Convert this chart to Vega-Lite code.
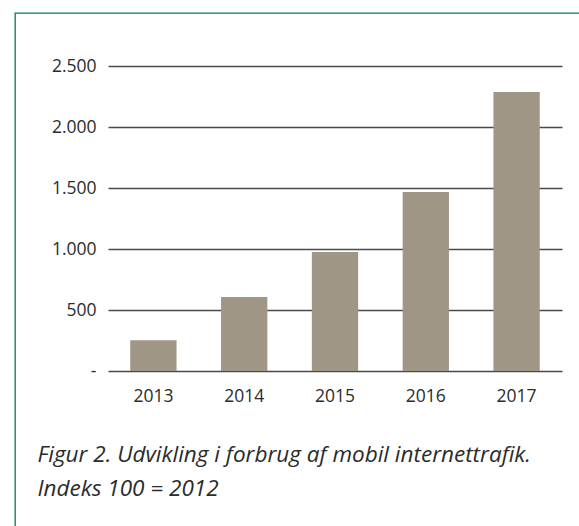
{
  "$schema": "https://vega.github.io/schema/vega-lite/v6.json",
  "width": 569,
  "height": 518,
  "autosize": "none",
  "padding": {"left": 15, "top": 13, "right": 0, "bottom": 0},
  "background": "white",
  "config": {
    "view": {"stroke": "#0b7a52", "strokeWidth": 1.3},
    "font": "Open Sans"
  },
  "data": {
    "values": [
      {"year": "2013", "value": 252},
      {"year": "2014", "value": 606},
      {"year": "2015", "value": 975},
      {"year": "2016", "value": 1467},
      {"year": "2017", "value": 2287}
    ]
  },
  "mark": {"type": "bar", "color": "#a09686"},
  "encoding": {
    "x": {
      "field": "year",
      "type": "ordinal",
      "scale": {"range": [93, 547], "paddingInner": 0.49, "paddingOuter": 0.245},
      "axis": {
        "orient": "bottom",
        "offset": -160,
        "ticks": false,
        "domain": false,
        "labelAngle": 0,
        "labelFontSize": 17.5,
        "labelColor": "#2b2b2b",
        "labelPadding": 16,
        "title": ["Figur 2. Udvikling i forbrug af mobil internettrafik.", "Indeks 100 = 2012"],
        "titleFontStyle": "italic",
        "titleFontWeight": "normal",
        "titleFontSize": 22.5,
        "titleColor": "#2b2b2b",
        "titleLineHeight": 34,
        "titleAnchor": "start",
        "titleAlign": "left",
        "titleBaseline": "alphabetic",
        "titleX": 22,
        "titleY": 90
      }
    },
    "y": {
      "field": "value",
      "type": "quantitative",
      "scale": {"domain": [0, 2500], "range": [358, 53], "nice": false},
      "axis": {
        "orient": "left",
        "offset": -93,
        "ticks": false,
        "domain": false,
        "grid": true,
        "gridColor": "#4a4a4a",
        "gridWidth": 1.3,
        "values": [0, 500, 1000, 1500, 2000, 2500],
        "labelFontSize": 17.5,
        "labelColor": "#2b2b2b",
        "labelPadding": 12,
        "labelExpr": "datum.value === 0 ? '-' : replace(datum.label, ',', '.')",
        "title": null
      }
    }
  }
}
